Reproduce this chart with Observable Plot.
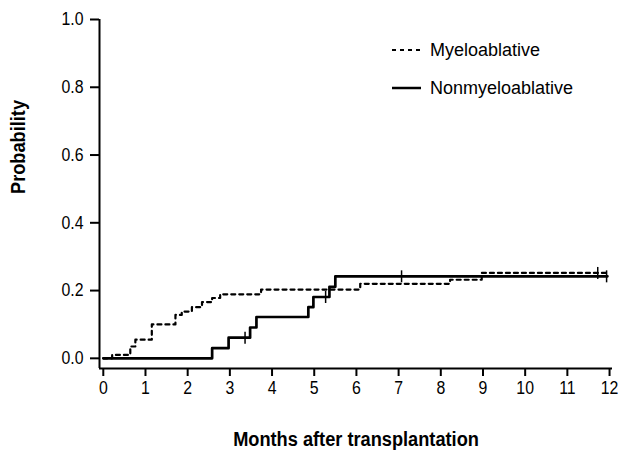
<!DOCTYPE html>
<html>
<head>
<meta charset="utf-8">
<script src="https://cdn.jsdelivr.net/npm/d3@7"></script>
<script src="https://cdn.jsdelivr.net/npm/@observablehq/plot@0.6"></script>
<style>
  html, body { margin: 0; padding: 0; background: #fff; }
  #chart { position: relative; width: 620px; height: 451px; }
</style>
</head>
<body>
<div id="chart"></div>
<script>
// Myeloablative (dashed)
const myeloMonths = [0, 0.21, 0.64, 0.76, 1.15, 1.71, 1.86, 2.10, 2.34, 2.58, 2.77, 3.74, 6.09, 8.22, 8.97, 11.95];
const myeloProb   = [0, 0.010, 0.035, 0.055, 0.100, 0.128, 0.138, 0.151, 0.166, 0.178, 0.189, 0.203, 0.220, 0.232, 0.252, 0.252];
// Nonmyeloablative (solid)
const nonMonths = [0, 2.58, 2.97, 3.48, 3.63, 4.86, 4.98, 5.36, 5.50, 11.95];
const nonProb   = [0, 0.030, 0.061, 0.091, 0.122, 0.151, 0.181, 0.211, 0.242, 0.242];
// Censor marks
const myeloCensorMonths = [11.72];
const myeloCensorProb   = [0.252];
const nonCensorMonths = [3.36, 5.27, 7.07, 11.93];
const nonCensorProb   = [0.061, 0.181, 0.242, 0.242];

const xTicks = [0,1,2,3,4,5,6,7,8,9,10,11,12];
const yTicks = [0, 0.2, 0.4, 0.6, 0.8, 1.0];
const seriesNames = ["Myeloablative", "Nonmyeloablative"];
const xTitle = "Months after transplantation";
const yTitle = "Probability";

const myelo = myeloMonths.map((m, i) => ({month: m, p: myeloProb[i]}));
const non = nonMonths.map((m, i) => ({month: m, p: nonProb[i]}));
const myeloC = myeloCensorMonths.map((m, i) => ({month: m, p: myeloCensorProb[i]}));
const nonC = nonCensorMonths.map((m, i) => ({month: m, p: nonCensorProb[i]}));

const FONT = "'Liberation Sans', Arial, Helvetica, sans-serif";

const vbar = { draw(context, size) { const r = Math.sqrt(size / Math.PI); context.moveTo(0, -r); context.lineTo(0, r); } };

const xMin = -0.09, yMin = -0.03;

const plot = Plot.plot({
  width: 620,
  height: 451,
  marginLeft: 99,
  marginRight: 8,
  marginTop: 19,
  marginBottom: 83,
  style: { fontFamily: FONT, fontSize: "18px", color: "#000", background: "#fff" },
  x: { domain: [xMin, 12.07] },
  y: { domain: [yMin, 1] },
  marks: [
    Plot.axisX({ ticks: xTicks, tickSize: 8, tickPadding: 5, tickFormat: d3.format("d"), label: null, strokeWidth: 2, fontSize: 18, className: "squish" }),
    Plot.axisY({ ticks: yTicks, tickSize: 9, tickPadding: 7, tickFormat: d3.format(".1f"), label: null, strokeWidth: 2, fontSize: 18, className: "squish" }),
    Plot.ruleY([yMin], { stroke: "#000", strokeWidth: 2 }),
    Plot.ruleX([xMin], { stroke: "#000", strokeWidth: 2 }),
    Plot.line(myelo, { x: "month", y: "p", curve: "step-after", stroke: "#000", strokeWidth: 2.2, strokeDasharray: "4,4" }),
    Plot.line(non, { x: "month", y: "p", curve: "step-after", stroke: "#000", strokeWidth: 2.7 }),
    Plot.dot(myeloC, { x: "month", y: "p", symbol: vbar, r: 6, stroke: "#000", strokeWidth: 1.5, fill: "none" }),
    Plot.dot(nonC, { x: "month", y: "p", symbol: vbar, r: 6, stroke: "#000", strokeWidth: 1.5, fill: "none" }),
    Plot.text([xTitle], { frameAnchor: "bottom", dy: 71, lineAnchor: "middle", fontWeight: "bold", fontSize: 20, fill: "#000", className: "squish-title" }),
    Plot.text([yTitle], { frameAnchor: "left", dx: -81, rotate: -90, lineAnchor: "middle", fontWeight: "bold", fontSize: 20, fill: "#000", className: "squish-title" })
  ]
});

document.getElementById("chart").appendChild(plot);

// Condense text horizontally to mimic a condensed Helvetica
function squish(sel, k) {
  d3.select(plot).selectAll(sel).each(function() {
    const len = this.getComputedTextLength();
    this.setAttribute("textLength", (len * k).toFixed(2));
    this.setAttribute("lengthAdjust", "spacingAndGlyphs");
  });
}
squish(".squish text", 0.88);
squish(".squish-title text", 0.91);

// Legend drawn into the SVG
const svg = d3.select(plot);
const leg = svg.append("g").attr("font-family", FONT).attr("font-size", 18).attr("text-anchor", "start");
const legendItems = [
  { name: seriesNames[0], dash: "4,4", w: 2, y: 50 },
  { name: seriesNames[1], dash: null, w: 2.5, y: 88 }
];
legendItems.forEach(it => {
  leg.append("line").attr("x1", 392).attr("x2", 421).attr("y1", it.y).attr("y2", it.y)
    .attr("stroke", "#000").attr("stroke-width", it.w).attr("stroke-dasharray", it.dash);
  leg.append("text").attr("x", 430).attr("y", it.y).attr("dy", "0.35em").attr("fill", "#000").text(it.name);
});
</script>
</body>
</html>
